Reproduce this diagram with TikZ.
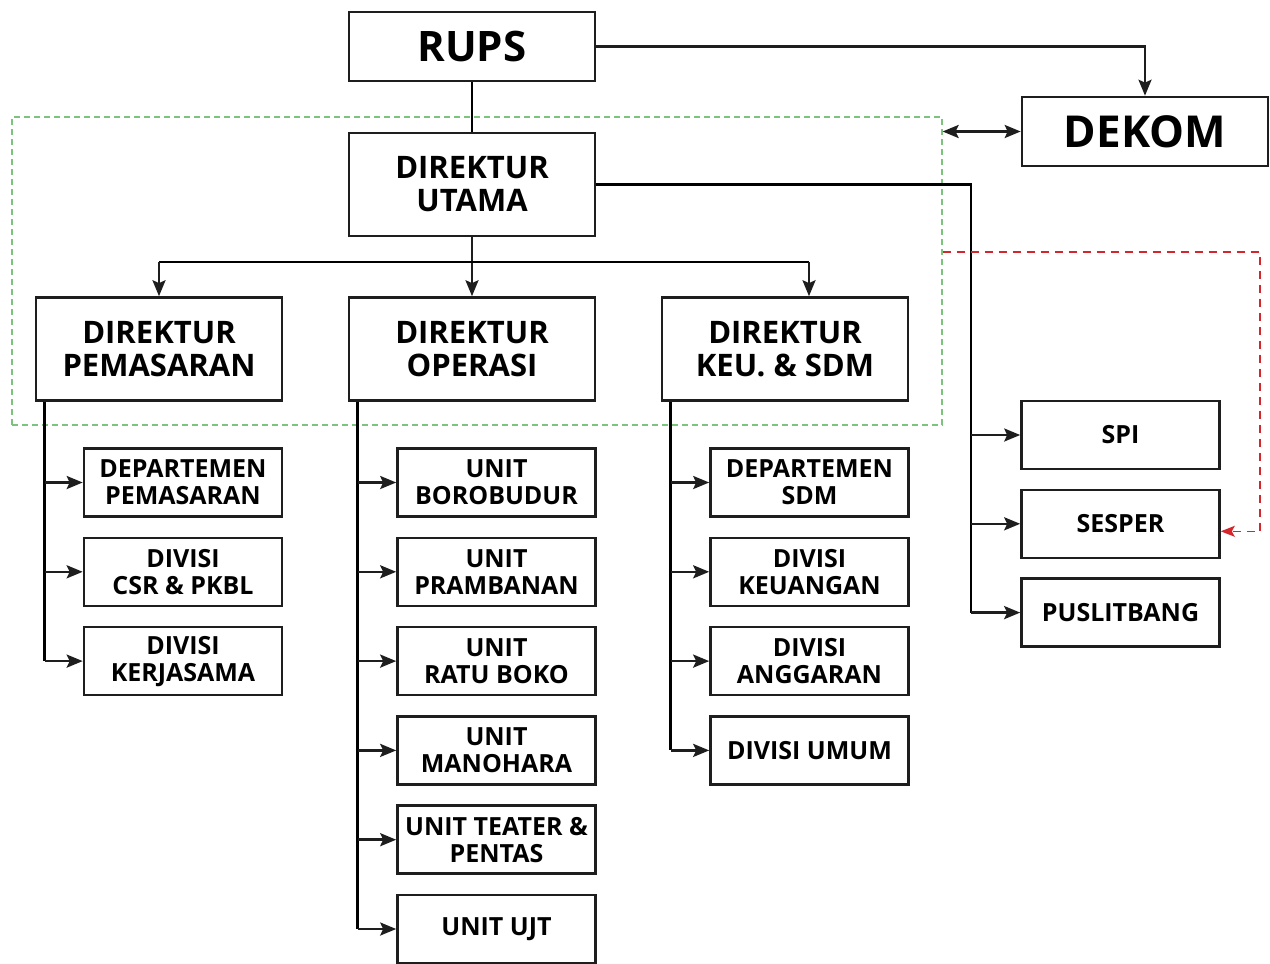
\documentclass[tikz,border=0pt]{standalone}
\usepackage{fontspec}
\setsansfont{Open Sans}
\usetikzlibrary{arrows.meta, positioning}
\definecolor{cline}{HTML}{1E1E1E}
\definecolor{cgreen}{HTML}{7CC47E}
\definecolor{cred}{HTML}{D5262C}
\tikzset{
  every picture/.style={font=\sffamily\bfseries, line width=1.3pt},
  box/.style={draw=cline, align=center, inner sep=0pt, minimum width=123pt},
  topbox/.style={box, minimum height=34.5pt, font=\sffamily\bfseries\fontsize{21}{23}\selectfont},
  dirbox/.style={box, minimum height=51.5pt, font=\sffamily\bfseries\fontsize{15.5}{16.5}\selectfont},
  subbox/.style={box, minimum width=99pt, minimum height=34pt, font=\sffamily\bfseries\fontsize{12.5}{13.5}\selectfont},
  arrow/.style={draw=cline, -{Stealth[length=8pt, width=6.5pt, inset=1.5pt]}},
  darrow/.style={draw=cline, {Stealth[length=8pt, width=6.5pt, inset=1.5pt]}-{Stealth[length=8pt, width=6.5pt, inset=1.5pt]}},
  grp/.style={draw=cgreen, line width=0.6pt, dash pattern=on 3pt off 2pt},
  redarrow/.style={draw=cred, line width=0.6pt, dash pattern=on 4pt off 3pt, -{Stealth[length=7pt, width=5.5pt, inset=1.5pt]}},
}
\begin{document}
\begin{tikzpicture}[x=0.5pt, y=-0.5pt]
  \useasboundingbox (0,0) rectangle (1270,964);
  % board and top management
  \node[grp, minimum width=465pt, minimum height=154pt] (grp) at (477,271) {};
  \node[topbox] (rups) at (472,46.5) {RUPS};
  \node[topbox, font=\sffamily\bfseries\fontsize{22}{24}\selectfont] (dekom) at (1145,131.5) {DEKOM};
  \node[dirbox] (dirut) at (472,184.5) {DIREKTUR\\UTAMA};
  \node[dirbox] (dirpem) at (159,349) {DIREKTUR\\PEMASARAN};
  \node[dirbox] (dirops) at (472,349) {DIREKTUR\\OPERASI};
  \node[dirbox] (dirkeu) at (785,349) {DIREKTUR\\KEU. \& SDM};
  \draw (rups) -- (dirut);
  \draw[arrow] (rups.east) -| (dekom.north);
  \draw[darrow] (grp.east |- dekom.west) -- (dekom.west);
  % directors
  \coordinate (bus) at (472,262);
  \coordinate (keuin) at ([xshift=12pt]dirkeu.north);
  \draw[arrow] (dirut.south) -- (dirops.north);
  \draw (dirpem.north |- bus) -- (keuin |- bus);
  \draw[arrow] (dirpem.north |- bus) -- (dirpem.north);
  \draw[arrow] (keuin |- bus) -- (keuin);
  % departments and units
  \foreach \t [count=\i] in {{DEPARTEMEN\\PEMASARAN}, {DIVISI\\CSR \& PKBL}, {DIVISI\\KERJASAMA}}
    \node[subbox] (p\i) at (183,482.5+89.3*\i-89.3) {\t};
  \foreach \t [count=\i] in {{UNIT\\BOROBUDUR}, {UNIT\\PRAMBANAN}, {UNIT\\RATU BOKO}, {UNIT\\MANOHARA}, {UNIT TEATER \&\\PENTAS}, {UNIT UJT}}
    \node[subbox] (o\i) at (496.5,482.5+89.3*\i-89.3) {\t};
  \foreach \t [count=\i] in {{DEPARTEMEN\\SDM}, {DIVISI\\KEUANGAN}, {DIVISI\\ANGGARAN}, {DIVISI UMUM}}
    \node[subbox] (k\i) at (809.5,482.5+89.3*\i-89.3) {\t};
  \foreach \t [count=\i] in {SPI, SESPER, PUSLITBANG}
    \node[subbox] (s\i) at (1120.5,435+88.8*\i-88.8) {\t};
  \coordinate (pt) at ([xshift=5pt]dirpem.south west);
  \coordinate (ot) at ([xshift=5pt]dirops.south west);
  \coordinate (kt) at ([xshift=5pt]dirkeu.south west);
  \coordinate (st) at (971,184.5);
  \draw (pt) -- (pt |- p3.west);
  \draw (ot) -- (ot |- o6.west);
  \draw (kt) -- (kt |- k4.west);
  \draw (dirut.east) -- (st) -- (st |- s3.west);
  \foreach \i in {1,2,3} \draw[arrow] (pt |- p\i.west) -- (p\i.west);
  \foreach \i in {1,...,6} \draw[arrow] (ot |- o\i.west) -- (o\i.west);
  \foreach \i in {1,...,4} \draw[arrow] (kt |- k\i.west) -- (k\i.west);
  \foreach \i in {1,2,3} \draw[arrow] (st |- s\i.west) -- (s\i.west);
  % secretary link
  \coordinate (rc) at (1260,252);
  \coordinate (sesin) at ([yshift=-3.75pt]s2.east);
  \draw[redarrow] (grp.east |- rc) -- (rc) -- (rc |- sesin) -- (sesin);
\end{tikzpicture}
\end{document}
